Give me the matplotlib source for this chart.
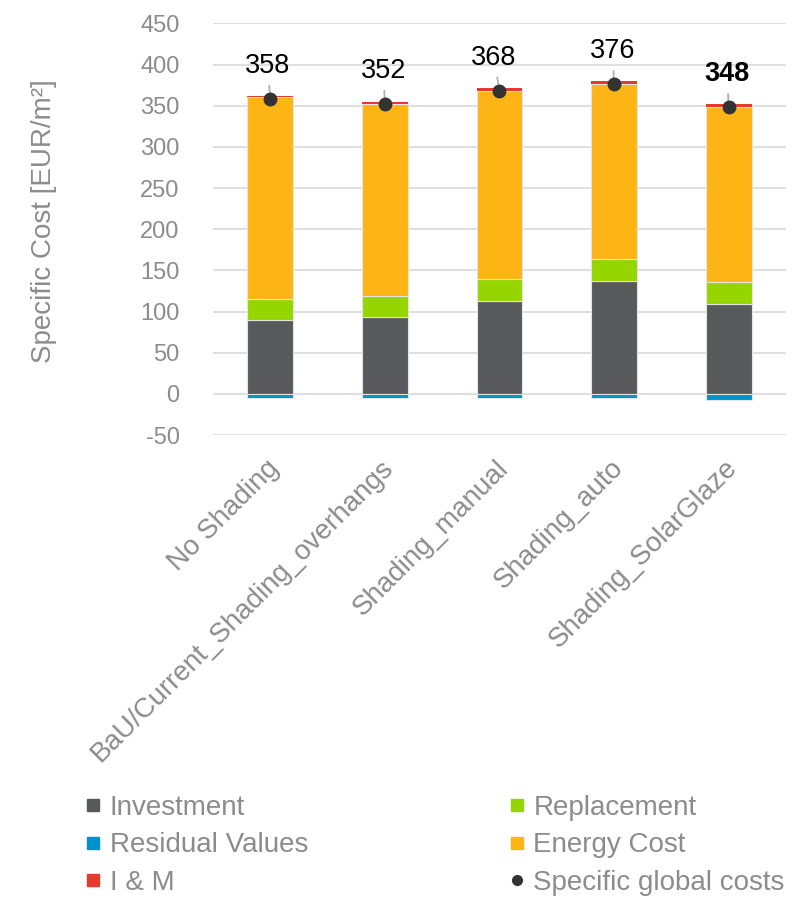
import numpy as np
import matplotlib
matplotlib.use("Agg")
import matplotlib.pyplot as plt
import matplotlib.transforms as mtransforms
from matplotlib.lines import Line2D

plt.rcParams['font.family'] = ['Liberation Sans', 'DejaVu Sans']
plt.rcParams['axes.unicode_minus'] = False

categories = ["No Shading", "BaU/Current_Shading_overhangs", "Shading_manual",
              "Shading_auto", "Shading_SolarGlaze"]
investment = [90, 94, 113, 137, 109]
replacement = [25.5, 25.5, 27, 27, 27]
energy = [244.5, 233, 228, 212.5, 212.5]
im = [1.5, 2, 3.5, 4, 4]
residual = [-5, -5, -5, -5, -7]
totals = [358, 352, 368, 376, 348]

c_inv = '#58595b'
c_rep = '#95d600'
c_res = '#0093c9'
c_en = '#fdb515'
c_im = '#e8392e'
c_dot = '#333333'
grey = '#8c8c8c'

fig = plt.figure(figsize=(7.99, 8.99), dpi=100)
ax = fig.add_axes([0.2666, 0.516, 0.717, 0.458])

x = np.arange(len(categories))
w = 0.40
ec = '#e3e3e3'
b1 = np.array(investment)
b2 = b1 + np.array(replacement)
b3 = b2 + np.array(energy)
ax.bar(x, investment, w, color=c_inv, edgecolor=ec, linewidth=0.8, zorder=2)
ax.bar(x, residual, w, color=c_res, edgecolor=ec, linewidth=0.8, zorder=2)
ax.bar(x, replacement, w, bottom=b1, color=c_rep, edgecolor=ec, linewidth=0.8, zorder=2)
ax.bar(x, energy, w, bottom=b2, color=c_en, edgecolor=ec, linewidth=0.8, zorder=2)
ax.bar(x, im, w, bottom=b3, color=c_im, linewidth=0, zorder=2)
ax.plot(x, totals, 'o', color=c_dot, markersize=9, linestyle='none', zorder=4)

# data labels with leader lines
xoffs = [-2, -1, -4, -1, -1]
for i, t in enumerate(totals):
    ax.annotate(str(t), (x[i], t), xytext=(xoffs[i], 24), textcoords='offset points',
                ha='center', va='center', fontsize=19.5, color='black',
                fontweight='bold' if i == 4 else 'normal',
                arrowprops=dict(arrowstyle='-', color='#b0b0b0', lw=1.3,
                                shrinkA=3, shrinkB=0), zorder=3)

ax.set_ylim(-50, 450)
ax.set_xlim(-0.5, 4.5)
ax.set_yticks(np.arange(-50, 451, 50))
ax.grid(axis='y', color='#d9d9d9', linewidth=1.2, zorder=0)
ax.set_axisbelow(True)
for s in ax.spines.values():
    s.set_visible(False)
ax.tick_params(axis='y', length=0, pad=24, labelsize=17, labelcolor=grey)
ax.tick_params(axis='x', length=0, pad=21, labelsize=20, labelcolor=grey)

ax.set_xticks(x)
ax.set_xticklabels(categories, rotation=45, ha='right', rotation_mode='anchor', va='center')
shift = mtransforms.ScaledTranslation(5 / 100, 0, fig.dpi_scale_trans)
for lab in ax.get_xticklabels():
    lab.set_transform(lab.get_transform() + shift)

ax.set_ylabel('Specific Cost [EUR/m²]', fontsize=20, color=grey)
ax.yaxis.set_label_coords(-0.272, 0.52)

def sq(c):
    return Line2D([], [], marker='s', linestyle='none', markersize=8.5, color=c)

handles = [sq(c_inv), sq(c_res), sq(c_im), sq(c_rep), sq(c_en),
           Line2D([], [], marker='o', linestyle='none', markersize=7, color=c_dot)]
labels = ['Investment', 'Residual Values', 'I & M', 'Replacement', 'Energy Cost',
          'Specific global costs']
leg = fig.legend(handles, labels, loc='upper left', bbox_to_anchor=(0.108, 0.116),
                 ncol=2, frameon=False, fontsize=20, handlelength=0.5,
                 handletextpad=0.35, columnspacing=7.25, labelspacing=0.42,
                 borderaxespad=0, borderpad=0)
for t in leg.get_texts():
    t.set_color(grey)

plt.savefig('out.png', dpi=100)
